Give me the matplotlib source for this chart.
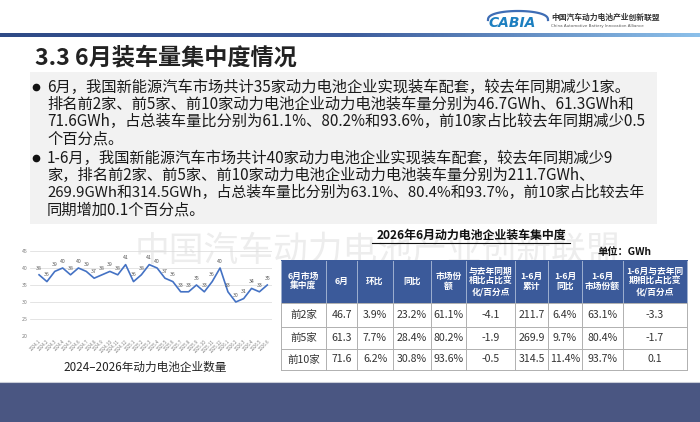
import numpy as np
import matplotlib
matplotlib.use("Agg")
import matplotlib.pyplot as plt
from matplotlib.patches import Rectangle
from matplotlib.colors import LinearSegmentedColormap

plt.rcParams['font.family'] = ['Noto Sans CJK SC', 'DejaVu Sans']

# ---------------- data ----------------
months = ['2024.1', '2024.2', '2024.3', '2024.4', '2024.5', '2024.6', '2024.7', '2024.8',
          '2024.9', '2024.10', '2024.11', '2024.12',
          '2025.1', '2025.2', '2025.3', '2025.4', '2025.5', '2025.6', '2025.7', '2025.8',
          '2025.9', '2025.10', '2025.11', '2025.12',
          '2026.1', '2026.2', '2026.3', '2026.4', '2026.5', '2026.6']
companies = [38, 36, 39, 40, 38, 40, 39, 37, 38, 39, 38, 41,
             36, 38, 41, 40, 37, 36, 33, 33, 35, 33, 36, 40,
             33, 30, 31, 34, 33, 35]

table_header = ['6月市场\n集中度', '6月', '环比', '同比', '市场份\n额',
                '与去年同期\n相比占比变\n化/百分点', '1-6月\n累计', '1-6月\n同比',
                '1-6月\n市场份额', '1-6月与去年同\n期相比占比变\n化/百分点']
row_names = ['前2家', '前5家', '前10家']
june_gwh = ['46.7', '61.3', '71.6']
mom = ['3.9%', '7.7%', '6.2%']
yoy = ['23.2%', '28.4%', '30.8%']
share = ['61.1%', '80.2%', '93.6%']
share_chg = ['-4.1', '-1.9', '-0.5']
ytd_gwh = ['211.7', '269.9', '314.5']
ytd_yoy = ['6.4%', '9.7%', '11.4%']
ytd_share = ['63.1%', '80.4%', '93.7%']
ytd_share_chg = ['-3.3', '-1.7', '0.1']

bullet1 = ['6月，我国新能源汽车市场共计35家动力电池企业实现装车配套，较去年同期减少1家。',
           '排名前2家、前5家、前10家动力电池企业动力电池装车量分别为46.7GWh、61.3GWh和',
           '71.6GWh，占总装车量比分别为61.1%、80.2%和93.6%，前10家占比较去年同期减少0.5',
           '个百分点。']
bullet2 = ['1-6月，我国新能源汽车市场共计40家动力电池企业实现装车配套，较去年同期减少9',
           '家，排名前2家、前5家、前10家动力电池企业动力电池装车量分别为211.7GWh、',
           '269.9GWh和314.5GWh，占总装车量比分别为63.1%、80.4%和93.7%，前10家占比较去年',
           '同期增加0.1个百分点。']

W, H = 700, 422
fig = plt.figure(figsize=(7, 4.22), dpi=100)
renderer = fig.canvas.get_renderer()

# page layer in pixel coordinates
bg = fig.add_axes([0, 0, 1, 1])
bg.set_xlim(0, W)
bg.set_ylim(H, 0)
bg.axis('off')

# watermark
bg.text(135, 251, '中国汽车动力电池产业创新联盟', fontsize=25, color='#ededed',
        va='center', ha='left', zorder=0)

# header line with gradient
grad = np.linspace(0, 1, 256).reshape(1, -1)
cmap = LinearSegmentedColormap.from_list('hdr', ['#2e4a86', '#3d5c9c', '#8cc0ea'])
bg.imshow(grad, cmap=cmap, extent=[0, W, 37, 33.5], aspect='auto', zorder=1)
bg.set_xlim(0, W)
bg.set_ylim(H, 0)

# logo
t = np.linspace(0, np.pi, 60)
bg.plot(488 + 30 * (1 - np.cos(t)), 20 - 9 * np.sin(t) ** 0.8, color='#3e6db5', lw=1.6)
bg.text(512, 23, 'CABIA', fontsize=10, color='#1c7fc0', style='italic',
        fontweight='bold', ha='center', va='center', family='DejaVu Sans')
bg.text(551, 17, '中国汽车动力电池产业创新联盟', fontsize=5.6, color='#333333',
        ha='left', va='center', fontweight='bold')
bg.text(551, 26, 'China Automotive Battery Innovation Alliance', fontsize=2.9,
        color='#555555', ha='left', va='center', family='DejaVu Sans')

# title
bg.text(35, 58, '3.3 6月装车量集中度情况', fontsize=16.7, fontweight='bold',
        color='#222222', ha='left', va='center')

# bullet box
bg.add_patch(Rectangle((30, 72), 627, 152, facecolor='#f2f2f2', edgecolor='none', zorder=1))
max_w = 596  # px available per line
for start_y, lines in [(87, bullet1), (158, bullet2)]:
    bg.plot(36, start_y, 'o', color='#111111', markersize=4.5, zorder=3)
    for i, line in enumerate(lines):
        txt = bg.text(47, start_y + i * 17.3, line, fontsize=11, color='#1a1a1a',
                      ha='left', va='center', zorder=3)
        w = txt.get_window_extent(renderer=renderer).width
        if w > max_w:
            txt.set_fontsize(11 * max_w / w)

# bottom band
bg.add_patch(Rectangle((0, 382), W, 40, facecolor='#4a5682', edgecolor='none', zorder=1))
bg.plot([0, W], [382, 382], color='#c9cdd8', lw=0.8, zorder=2)

# ---------------- table ----------------
col_x = [281, 326, 357, 393, 431, 466, 515, 548, 582, 623, 687]
row_y = [260, 303, 327, 349, 370]
bg.text(471, 235, '2026年6月动力电池企业装车集中度', fontsize=8.6, fontweight='bold',
        ha='center', va='center', color='#111111', zorder=3)
bg.plot([372, 570], [242.5, 242.5], color='#111111', lw=0.8, zorder=3)
bg.text(652, 252, '单位：GWh', fontsize=7.4, fontweight='bold', ha='right',
        va='center', color='#111111', zorder=3)

bg.add_patch(Rectangle((col_x[0], row_y[0]), col_x[-1] - col_x[0], row_y[1] - row_y[0],
                       facecolor='#3b5a9a', edgecolor='none', zorder=2))
bg.add_patch(Rectangle((col_x[0], row_y[1]), col_x[-1] - col_x[0], row_y[-1] - row_y[1],
                       facecolor='white', edgecolor='none', zorder=2))
for i, lab in enumerate(table_header):
    cx = (col_x[i] + col_x[i + 1]) / 2
    bg.text(cx, (row_y[0] + row_y[1]) / 2, lab, fontsize=6.3, fontweight='bold',
            color='white', ha='center', va='center', linespacing=1.15, zorder=4)

columns = [row_names, june_gwh, mom, yoy, share, share_chg, ytd_gwh, ytd_yoy,
           ytd_share, ytd_share_chg]
for r in range(3):
    cy = (row_y[r + 1] + row_y[r + 2]) / 2
    for c, col in enumerate(columns):
        cx = (col_x[c] + col_x[c + 1]) / 2
        bg.text(cx, cy, col[r], fontsize=7.6, color='#333333', ha='center',
                va='center', zorder=4)

for x in col_x:
    bg.plot([x, x], [row_y[0], row_y[1]], color='#9fb0d0', lw=0.7, zorder=3)
    bg.plot([x, x], [row_y[1], row_y[-1]], color='#b0b0b0', lw=0.7, zorder=3)
for y in row_y[1:]:
    bg.plot([col_x[0], col_x[-1]], [y, y], color='#b0b0b0', lw=0.7, zorder=3)
bg.plot([col_x[0], col_x[-1]], [row_y[0], row_y[0]], color='#3b5a9a', lw=0.7, zorder=3)

# ---------------- line chart ----------------
ax = fig.add_axes([30 / W, (H - 336) / H, 242 / W, 85 / H])
ax.patch.set_alpha(0)
x = np.arange(len(months))
ax.plot(x, companies, color='#4472c4', lw=1.2, zorder=3)
for xi, v in zip(x, companies):
    ax.annotate(str(v), (xi, v), xytext=(0, 3), textcoords='offset points',
                ha='center', va='bottom', fontsize=3.8, color='#595959')
ax.set_ylim(20, 45)
ax.set_yticks([20, 25, 30, 35, 40, 45])
ax.set_xlim(-1.15, 29.6)
ax.set_xticks(x)
ax.set_xticklabels(months, rotation=45, ha='right', fontsize=3.2, color='#808080',
                   rotation_mode='anchor')
ax.tick_params(axis='y', labelsize=3.8, colors='#808080', length=0, pad=2)
ax.tick_params(axis='x', length=0, pad=2)
ax.grid(axis='y', color='#d9d9d9', lw=0.5)
ax.set_axisbelow(True)
for s in ax.spines.values():
    s.set_visible(False)

bg.text(145, 367, '2024–2026年动力电池企业数量', fontsize=8.4, color='#222222',
        ha='center', va='center')

fig.savefig('out.png', dpi=100)
